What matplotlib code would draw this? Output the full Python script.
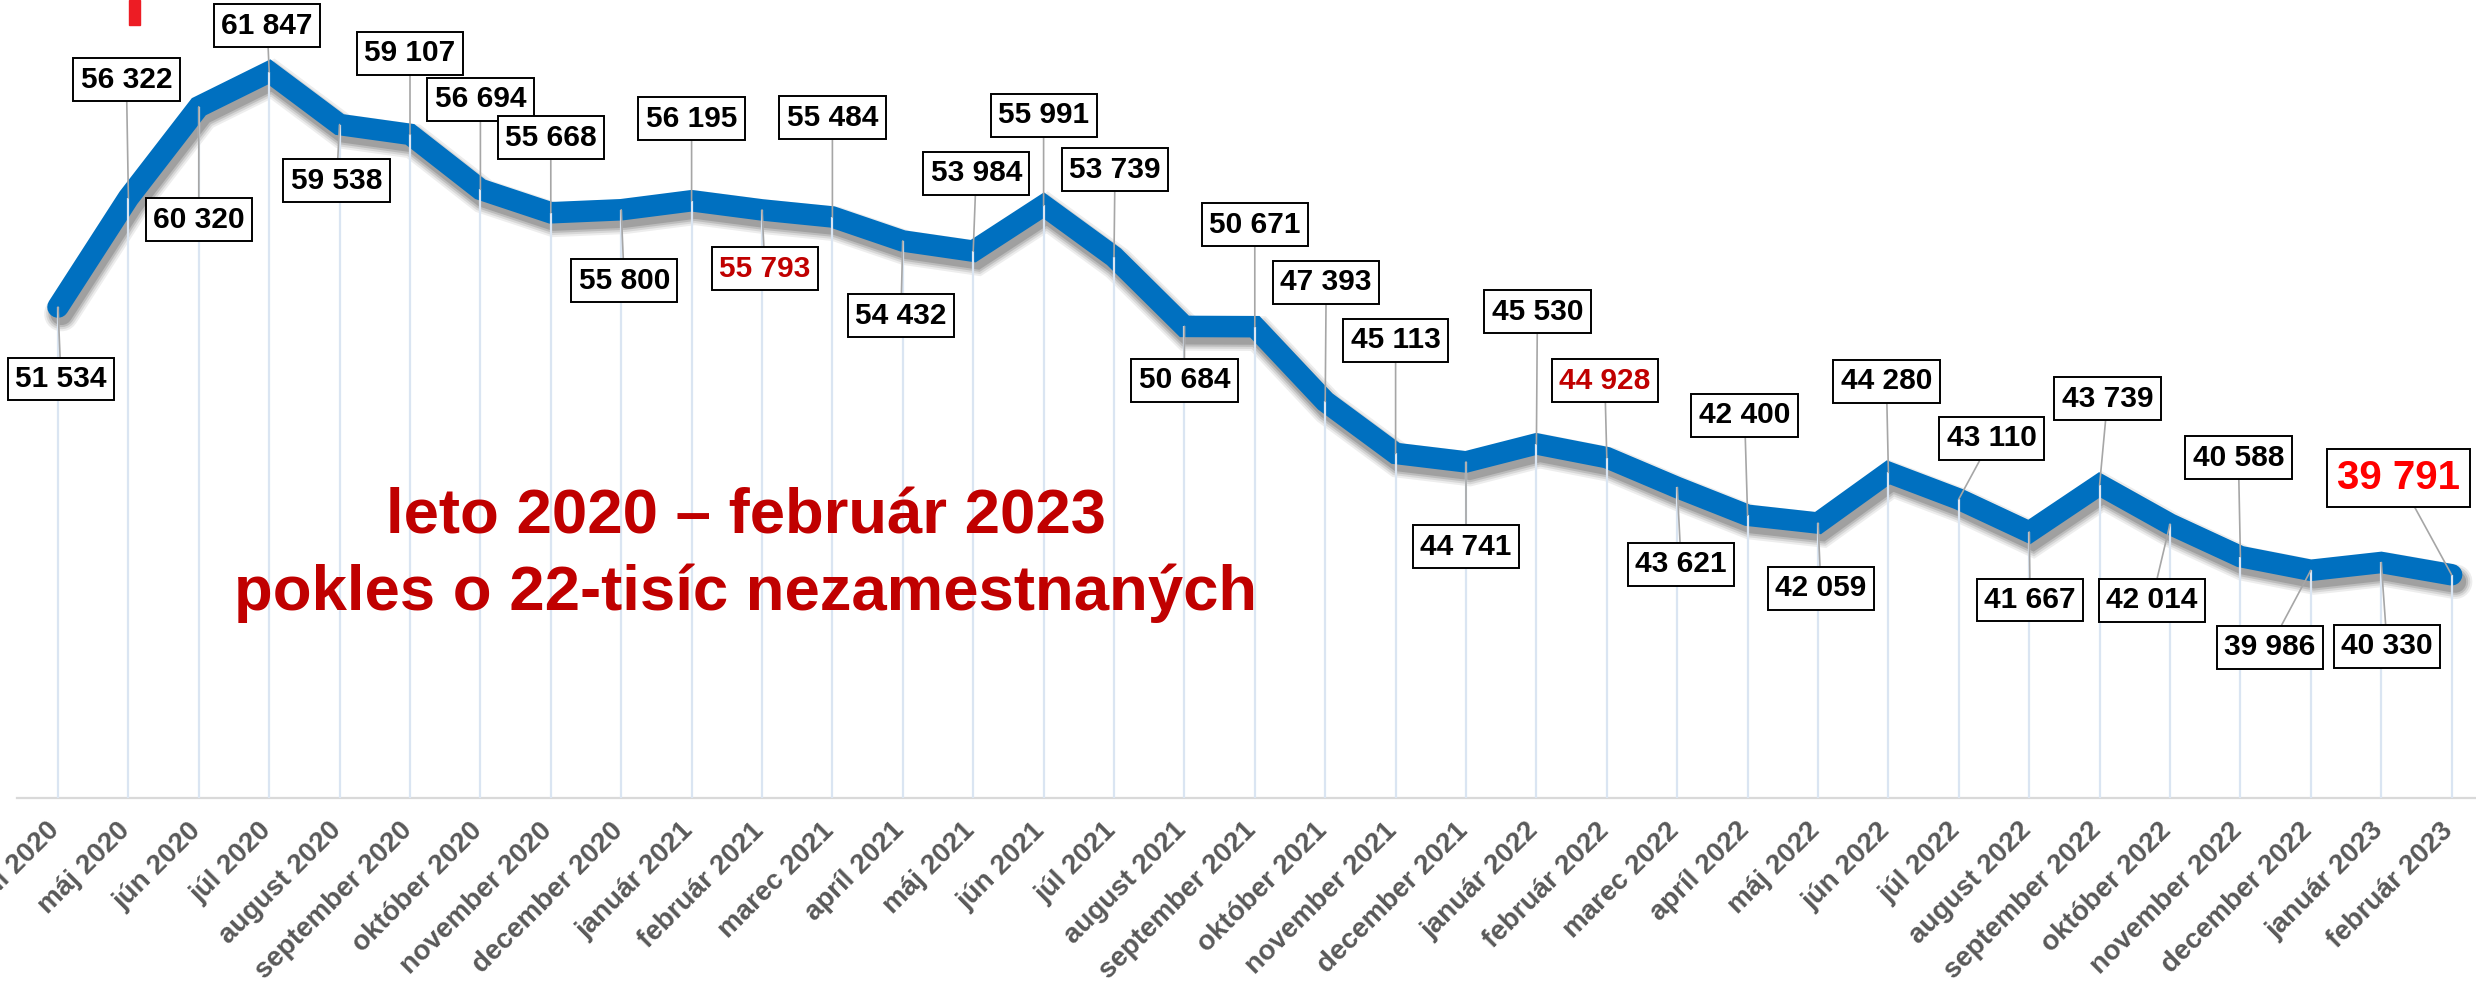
import matplotlib
matplotlib.use("Agg")
import matplotlib.pyplot as plt
import matplotlib.patheffects as pe
import matplotlib.transforms as mtransforms
from matplotlib.patches import Rectangle

plt.rcParams['font.family'] = ['Liberation Sans', 'DejaVu Sans']

# ---------------- data ----------------
months = ["apríl 2020", "máj 2020", "jún 2020", "júl 2020", "august 2020",
          "september 2020", "október 2020", "november 2020", "december 2020",
          "január 2021", "február 2021", "marec 2021", "apríl 2021", "máj 2021",
          "jún 2021", "júl 2021", "august 2021", "september 2021", "október 2021",
          "november 2021", "december 2021", "január 2022", "február 2022",
          "marec 2022", "apríl 2022", "máj 2022", "jún 2022", "júl 2022",
          "august 2022", "september 2022", "október 2022", "november 2022",
          "december 2022", "január 2023", "február 2023"]

unemployed = [51534, 56322, 60320, 61847, 59538, 59107, 56694, 55668, 55800,
              56195, 55793, 55484, 54432, 53984, 55991, 53739, 50684, 50671,
              47393, 45113, 44741, 45530, 44928, 43621, 42400, 42059, 44280,
              43110, 41667, 43739, 42014, 40588, 39986, 40330, 39791]

value_labels = ["51 534", "56 322", "60 320", "61 847", "59 538", "59 107",
                "56 694", "55 668", "55 800", "56 195", "55 793", "55 484",
                "54 432", "53 984", "55 991", "53 739", "50 684", "50 671",
                "47 393", "45 113", "44 741", "45 530", "44 928", "43 621",
                "42 400", "42 059", "44 280", "43 110", "41 667", "43 739",
                "42 014", "40 588", "39 986", "40 330", "39 791"]

annotation_lines = ["leto 2020 – február 2023",
                    "pokles o 22-tisíc nezamestnaných"]

# ---------------- layout / style ----------------
# label box offsets from the data point, in pixels (x right, y up)
label_offsets = [(3, -72), (-2, 118), (0, -113), (-2, 46), (-3, -56), (0, 81),
                 (0, 90), (0, 75), (3, -71), (0, 82), (3, -59), (0, 99),
                 (-2, -75), (3, 78), (0, 90), (1, 87), (0, -54), (0, 102),
                 (1, 119), (0, 113), (0, -85), (1, 132), (-2, 77), (4, -77),
                 (-3, 100), (3, -65), (-2, 91), (33, 61), (1, -68), (8, 86),
                 (-18, -76), (-2, 99), (-41, -77), (6, -84), (-53, 97)]
dark_red_idx = {10, 22}
big_red_idx = {34}

W, H = 2476, 991
fig = plt.figure(figsize=(W / 100, H / 100), dpi=100)
fig.patch.set_facecolor("white")
ax = fig.add_axes([17 / W, (H - 798) / H, (W - 17) / W, 798 / H])
ax.set_facecolor("white")

x = list(range(len(unemployed)))
ax.set_xlim(-41 / 70.4, (W - 58) / 70.4)
ax.set_ylim(30000, 65000)

# drop lines
ax.vlines(x, 30000, unemployed, colors="#DAE5F2", linewidth=1.6, zorder=3)

# main line with soft shadow
shadow = [pe.SimpleLineShadow(offset=(2.5, -5), shadow_color="black", alpha=a,
                              rho=1.0, linewidth=lw)
          for a, lw in [(0.07, 25), (0.09, 22), (0.12, 19), (0.15, 16)]]
ax.plot(x, unemployed, color="#0070C0", linewidth=15.5,
        solid_capstyle="round", solid_joinstyle="miter", zorder=2,
        path_effects=shadow + [pe.Normal()])

# data labels
for i, (v, lab, off) in enumerate(zip(unemployed, value_labels, label_offsets)):
    if i in big_red_idx:
        col, fs = "#FF0000", 29
    elif i in dark_red_idx:
        col, fs = "#C00000", 21.5
    else:
        col, fs = "black", 21.5
    ax.annotate(lab, xy=(i, v), xytext=off, textcoords="offset pixels",
                ha="center", va="center", fontsize=fs, fontweight="bold",
                color=col, zorder=6,
                bbox=dict(boxstyle="square,pad=0.25", fc="white", ec="black",
                          lw=1.4),
                arrowprops=dict(arrowstyle="-", color="#A6A6A6", lw=1.2,
                                shrinkA=0, shrinkB=0))

# axes styling
for s in ["top", "right", "left"]:
    ax.spines[s].set_visible(False)
ax.spines["bottom"].set_color("#D9D9D9")
ax.spines["bottom"].set_linewidth(1.6)
ax.set_yticks([])
ax.set_xticks(x)
ax.set_xticklabels(months, rotation=45, ha="right", va="top",
                   fontsize=20, fontweight="bold", color="#595959")
ax.tick_params(axis="x", length=0, pad=14)
shift = mtransforms.ScaledTranslation(7 / 100, 0, fig.dpi_scale_trans)
for lbl in ax.get_xticklabels():
    lbl.set_transform(lbl.get_transform() + shift)

# red annotation text
fig.text(746 / W, 1 - 533 / H, annotation_lines[0], ha="center",
         va="baseline", fontsize=45.7, fontweight="bold", color="#C00000")
fig.text(746 / W, 1 - 610 / H, annotation_lines[1], ha="center",
         va="baseline", fontsize=45.7, fontweight="bold", color="#C00000")

# red mark at top (cropped decoration)
fig.patches.append(Rectangle((129 / W, 1 - 25 / H), 11 / W, 25 / H,
                             transform=fig.transFigure, color="#ED1C24",
                             zorder=10))

fig.savefig("out.png", dpi=100, facecolor="white")
